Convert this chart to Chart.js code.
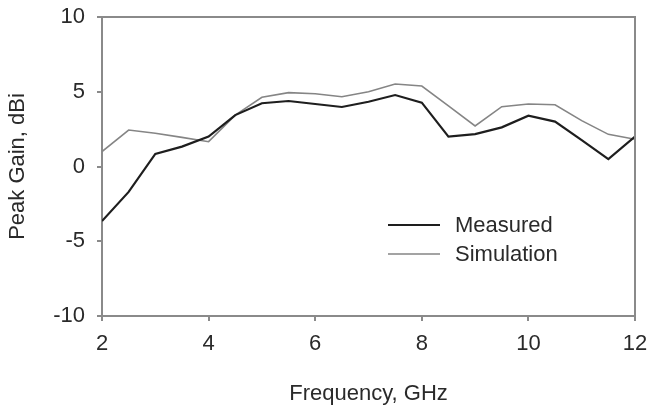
<!DOCTYPE html>
<html><head><meta charset="utf-8">
<script src="https://cdn.jsdelivr.net/npm/chart.js@4/dist/chart.umd.min.js"></script>
<style>html,body{margin:0;padding:0;background:#fff}#wrap{width:647px;height:410px}</style>
</head><body><div id="wrap"><canvas id="c" width="647" height="410"></canvas></div>
<script>
const frequency = [2,2.5,3,3.5,4,4.5,5,5.5,6,6.5,7,7.5,8,8.5,9,9.5,10,10.5,11,11.5,12];
const measured = [-3.65,-1.7,0.84,1.33,2.0,3.44,4.23,4.38,4.18,3.98,4.33,4.78,4.27,2.0,2.17,2.62,3.4,3.0,1.77,0.5,2.0];
const simulation = [1.0,2.44,2.22,1.95,1.66,3.44,4.63,4.94,4.87,4.67,5.0,5.52,5.38,4.05,2.71,4.0,4.18,4.13,3.07,2.15,1.82];
const xTicks = [2,4,6,8,10,12];
const yTicks = [-10,-5,0,5,10];

const FONT = "'Liberation Sans', Arial, sans-serif";
const AX = '#8a8a8a';
const TXT = '#2a2a2a';

const framePlugin = {
  id:'frame',
  afterDatasetsDraw(chart){
    const {ctx, chartArea:a} = chart;
    ctx.save();
    ctx.strokeStyle = AX; ctx.lineWidth = 2;
    ctx.beginPath();
    ctx.moveTo(a.left, a.top); ctx.lineTo(a.right, a.top); ctx.lineTo(a.right, a.bottom);
    ctx.stroke();
    // legend
    const items = chart.data.datasets;
    const lx = 388, ly = 225, gap = 29;
    ctx.font = '22px ' + FONT; ctx.fillStyle = TXT; ctx.textBaseline = 'middle';
    items.forEach((ds,i)=>{
      const y = ly + i*gap;
      ctx.strokeStyle = ds.borderColor; ctx.lineWidth = ds.borderWidth;
      ctx.beginPath(); ctx.moveTo(lx, y); ctx.lineTo(lx+52, y); ctx.stroke();
      ctx.fillText(ds.label, lx+67, y+1);
    });
    ctx.restore();
  }
};

new Chart(document.getElementById('c'), {
  type:'line',
  data:{
    datasets:[
      {label:'Measured', data: frequency.map((f,i)=>({x:f,y:measured[i]})), borderColor:'#1e1e1e', borderWidth:2.2, pointRadius:0, tension:0},
      {label:'Simulation', data: frequency.map((f,i)=>({x:f,y:simulation[i]})), borderColor:'#858585', borderWidth:1.6, pointRadius:0, tension:0}
    ]
  },
  options:{
    responsive:false, animation:false, devicePixelRatio:1,
    layout:{padding:{left:0,right:12,top:17,bottom:0}},
    plugins:{legend:{display:false}, tooltip:{enabled:false}},
    scales:{
      x:{type:'linear', min:2, max:12,
        afterBuildTicks(s){ s.ticks = xTicks.map(v=>({value:v})); },
        afterFit(s){ s.height = 94; s.paddingLeft = 0; s.paddingRight = 0; },
        grid:{display:true, drawOnChartArea:false, drawTicks:true, tickLength:5, color:AX, lineWidth:2},
        border:{display:true, color:AX, width:2},
        ticks:{font:{family:FONT,size:22}, color:TXT, padding:10, maxRotation:0},
        title:{display:true, text:'Frequency, GHz', font:{family:FONT,size:22}, color:TXT, padding:{top:0,bottom:3}}
      },
      y:{type:'linear', min:-10, max:10,
        afterBuildTicks(s){ s.ticks = yTicks.map(v=>({value:v})); },
        afterFit(s){ s.width = 102; s.paddingTop = 0; s.paddingBottom = 0; },
        grid:{display:true, drawOnChartArea:false, drawTicks:true, tickLength:5, color:AX, lineWidth:2},
        border:{display:true, color:AX, width:2},
        ticks:{font:{family:FONT,size:22}, color:TXT, padding:12},
        title:{display:true, text:'Peak Gain, dBi', font:{family:FONT,size:22}, color:TXT, padding:{top:5,bottom:0}}
      }
    }
  },
  plugins:[framePlugin]
});
</script></body></html>
